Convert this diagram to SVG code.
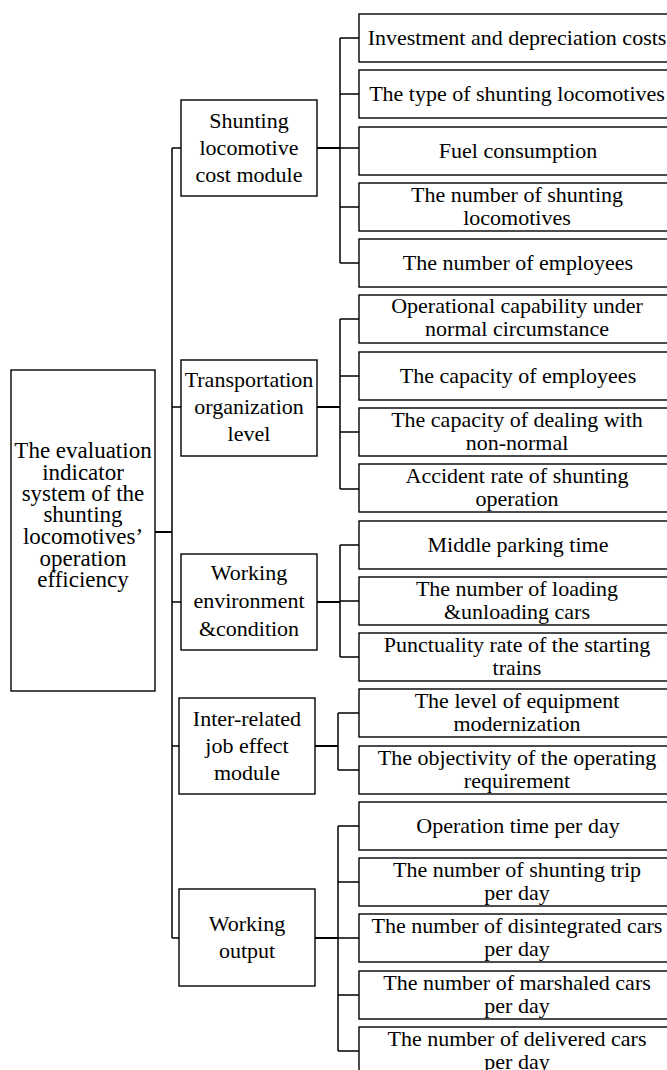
<svg xmlns="http://www.w3.org/2000/svg" width="667" height="1070" viewBox="0 0 667 1070">
<style>
rect{fill:#fff;stroke:#000;stroke-width:1.4}
text{font-family:"Liberation Serif","Times New Roman",serif;font-size:22px;fill:#000;text-anchor:middle}
.root text{font-size:23px}
.ln{fill:none;stroke:#000;stroke-width:1.5}
.tk{fill:none;stroke:#000;stroke-width:2.2}
</style>
<rect x="0" y="0" width="667" height="1070" style="stroke:none;fill:#fff"/>
<g id="connectors">
<path class="tk" d="M155 532H172M317 148H340M317 407H340M317 602H340M315 746H338M315 938H338"/>
<path class="ln" d="M172 148V938M172 148H181M172 407H181M172 602H181M172 746H179M172 938H179"/>
<path class="ln" d="M340 38V263M340 38H359M340 94H359M340 148H359M340 207H359M340 263H359"/>
<path class="ln" d="M340 319V489M340 319H359M340 376H359M340 432H359M340 489H359"/>
<path class="ln" d="M340 545V657M340 545H359M340 601H359M340 657H359"/>
<path class="ln" d="M338 713V770M338 713H359M338 770H359"/>
<path class="ln" d="M338 826V1051M338 826H359M338 882H359M338 938H359M338 995H359M338 1051H359"/>
</g>
<g id="root" class="root">
<rect x="11" y="370" width="144" height="321"/>
<text x="83"><tspan x="83" y="458">The evaluation</tspan><tspan x="83" y="480">indicator</tspan><tspan x="83" y="501">system of the</tspan><tspan x="83" y="522">shunting</tspan><tspan x="83" y="544">locomotives’</tspan><tspan x="83" y="566">operation</tspan><tspan x="83" y="587">efficiency</tspan></text>
</g>
<g id="m1"><rect x="181" y="100" width="136" height="96"/><text><tspan x="249" y="128">Shunting</tspan><tspan x="249" y="155">locomotive</tspan><tspan x="249" y="182">cost module</tspan></text></g>
<g id="m2"><rect x="181" y="360" width="136" height="96"/><text><tspan x="249" y="387">Transportation</tspan><tspan x="249" y="414">organization</tspan><tspan x="249" y="441">level</tspan></text></g>
<g id="m3"><rect x="181" y="554" width="136" height="96"/><text><tspan x="249" y="580">Working</tspan><tspan x="249" y="608">environment</tspan><tspan x="249" y="636">&amp;condition</tspan></text></g>
<g id="m4"><rect x="179" y="698" width="136" height="96"/><text><tspan x="247" y="726">Inter-related</tspan><tspan x="247" y="753">job effect</tspan><tspan x="247" y="780">module</tspan></text></g>
<g id="m5"><rect x="179" y="889" width="136" height="97"/><text><tspan x="247" y="931">Working</tspan><tspan x="247" y="958">output</tspan></text></g>
<g id="l0"><rect x="359" y="14" width="318" height="48"/><text x="517" y="45">Investment and depreciation costs</text></g>
<g id="l1"><rect x="359" y="70" width="318" height="48"/><text x="517" y="101">The type of shunting locomotives</text></g>
<g id="l2"><rect x="359" y="127" width="318" height="48"/><text x="518" y="158">Fuel consumption</text></g>
<g id="l3"><rect x="359" y="183" width="318" height="48"/><text><tspan x="517" y="202">The number of shunting</tspan><tspan x="517" y="225">locomotives</tspan></text></g>
<g id="l4"><rect x="359" y="239" width="318" height="48"/><text x="518" y="270">The number of employees</text></g>
<g id="l5"><rect x="359" y="295" width="318" height="48"/><text><tspan x="517" y="313">Operational capability under</tspan><tspan x="517" y="336">normal circumstance</tspan></text></g>
<g id="l6"><rect x="359" y="352" width="318" height="48"/><text x="518" y="383">The capacity of employees</text></g>
<g id="l7"><rect x="359" y="408" width="318" height="48"/><text><tspan x="517" y="427">The capacity of dealing with</tspan><tspan x="517" y="450">non-normal</tspan></text></g>
<g id="l8"><rect x="359" y="464" width="318" height="48"/><text><tspan x="517" y="483">Accident rate of shunting</tspan><tspan x="517" y="506">operation</tspan></text></g>
<g id="l9"><rect x="359" y="521" width="318" height="48"/><text x="518" y="552">Middle parking time</text></g>
<g id="l10"><rect x="359" y="577" width="318" height="48"/><text><tspan x="517" y="596">The number of loading</tspan><tspan x="517" y="619">&amp;unloading cars</tspan></text></g>
<g id="l11"><rect x="359" y="633" width="318" height="48"/><text><tspan x="517" y="652">Punctuality rate of the starting</tspan><tspan x="517" y="675">trains</tspan></text></g>
<g id="l12"><rect x="359" y="689" width="318" height="48"/><text><tspan x="517" y="708">The level of equipment</tspan><tspan x="517" y="731">modernization</tspan></text></g>
<g id="l13"><rect x="359" y="746" width="318" height="48"/><text><tspan x="517" y="765">The objectivity of the operating</tspan><tspan x="517" y="788">requirement</tspan></text></g>
<g id="l14"><rect x="359" y="802" width="318" height="48"/><text x="518" y="833">Operation time per day</text></g>
<g id="l15"><rect x="359" y="858" width="318" height="48"/><text><tspan x="517" y="877">The number of shunting trip</tspan><tspan x="517" y="900">per day</tspan></text></g>
<g id="l16"><rect x="359" y="914" width="318" height="48"/><text><tspan x="517" y="933">The number of disintegrated cars</tspan><tspan x="517" y="956">per day</tspan></text></g>
<g id="l17"><rect x="359" y="971" width="318" height="48"/><text><tspan x="517" y="990">The number of marshaled cars</tspan><tspan x="517" y="1013">per day</tspan></text></g>
<g id="l18"><rect x="359" y="1027" width="318" height="48"/><text><tspan x="517" y="1046">The number of delivered cars</tspan><tspan x="517" y="1069">per day</tspan></text></g>
</svg>
